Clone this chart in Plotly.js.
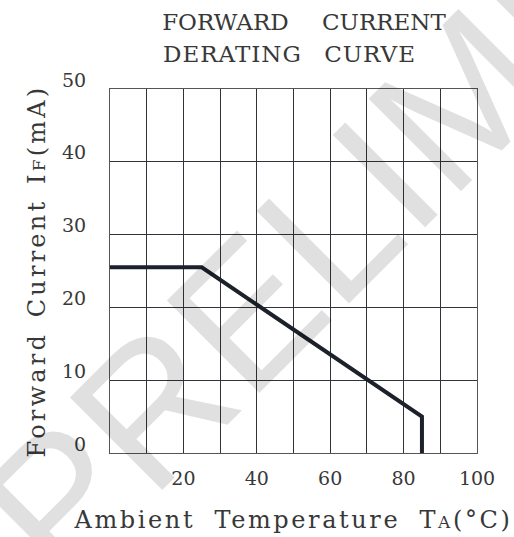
<!DOCTYPE html>
<html>
<head>
<meta charset="utf-8">
<script src="https://cdn.plot.ly/plotly-3.0.1.min.js"></script>
<style>
html,body{margin:0;padding:0;background:#fff;}
#chart{width:514px;height:537px;}
.gtitle{word-spacing:26px;}
.annotation[data-index="1"] text{letter-spacing:1px;word-spacing:14px;}
.xtitle{letter-spacing:2.6px;word-spacing:9px;}
.ytitle{letter-spacing:3.2px;word-spacing:4px;}
</style>
</head>
<body>
<div id="chart"></div>
<script>
// Data
const temperature = [0, 25, 85, 85];
const forwardCurrent = [25.5, 25.5, 5, 0];
const xTickVals = [10, 20, 30, 40, 50, 60, 70, 80, 90, 100];
const xTickText = ['', '20', '', '40', '', '60', '', '80', '', '100'];
const yTickVals = [0, 10, 20, 30, 40, 50];
const yTickText = ['0', '10', '20', '30', '40', '50'];
const titleLines = ['FORWARD CURRENT', 'DERATING CURVE'];
const watermark = 'PRELIMINARY';

const serif = 'DejaVu Serif, Liberation Serif, serif';
const textColor = '#383838';

const trace = {
  x: temperature,
  y: forwardCurrent,
  mode: 'lines',
  type: 'scatter',
  line: {color: '#1c212b', width: 4},
  hoverinfo: 'skip'
};

const layout = {
  width: 514,
  height: 537,
  margin: {l: 110, r: 37, t: 89, b: 84},
  paper_bgcolor: '#ffffff',
  plot_bgcolor: 'rgba(0,0,0,0)',
  showlegend: false,
  title: {
    text: titleLines[0],
    font: {family: serif, size: 23, color: textColor},
    xref: 'container', x: 304 / 514, xanchor: 'center',
    yref: 'container', y: 1 - 22 / 537, yanchor: 'middle'
  },
  xaxis: {
    range: [0, 100],
    tickvals: xTickVals,
    ticktext: xTickText,
    showgrid: true,
    gridcolor: '#30343a',
    gridwidth: 1,
    showline: true,
    linecolor: '#555',
    linewidth: 1,
    mirror: true,
    zeroline: false,
    ticks: '',
    ticklabelstandoff: 8,
    tickfont: {family: serif, size: 19, color: textColor},
    title: {
      text: 'Ambient Temperature T<span style="font-size:17px">A</span>(°C)',
      font: {family: serif, size: 24, color: textColor},
      standoff: 23
    },
    fixedrange: true
  },
  yaxis: {
    range: [0, 50],
    tickvals: yTickVals,
    ticktext: yTickText,
    showgrid: true,
    gridcolor: '#30343a',
    gridwidth: 1,
    showline: true,
    linecolor: '#555',
    linewidth: 1,
    mirror: true,
    zeroline: false,
    ticks: '',
    ticklabelstandoff: 19,
    ticklabelshift: -9,
    tickfont: {family: serif, size: 19, color: textColor},
    title: {
      text: 'Forward Current I<span style="font-size:17px">F</span>(mA)',
      font: {family: serif, size: 24, color: textColor},
      standoff: 9
    },
    fixedrange: true
  },
  annotations: [{
    text: watermark,
    xref: 'paper', yref: 'paper',
    x: (469 - 110) / 367, y: (453 - 90) / 364,
    xanchor: 'center', yanchor: 'middle',
    showarrow: false,
    textangle: -45,
    font: {family: 'Liberation Sans, DejaVu Sans, sans-serif', size: 190, color: 'rgba(0,0,0,0.12)'}
  }, {
    text: titleLines[1],
    xref: 'paper', yref: 'paper',
    x: (289 - 110) / 367, y: (453 - 54) / 364,
    xanchor: 'center', yanchor: 'middle',
    showarrow: false,
    font: {family: serif, size: 23, color: textColor}
  }]
};

Plotly.newPlot('chart', [trace], layout, {staticPlot: true, displayModeBar: false});
</script>
</body>
</html>
